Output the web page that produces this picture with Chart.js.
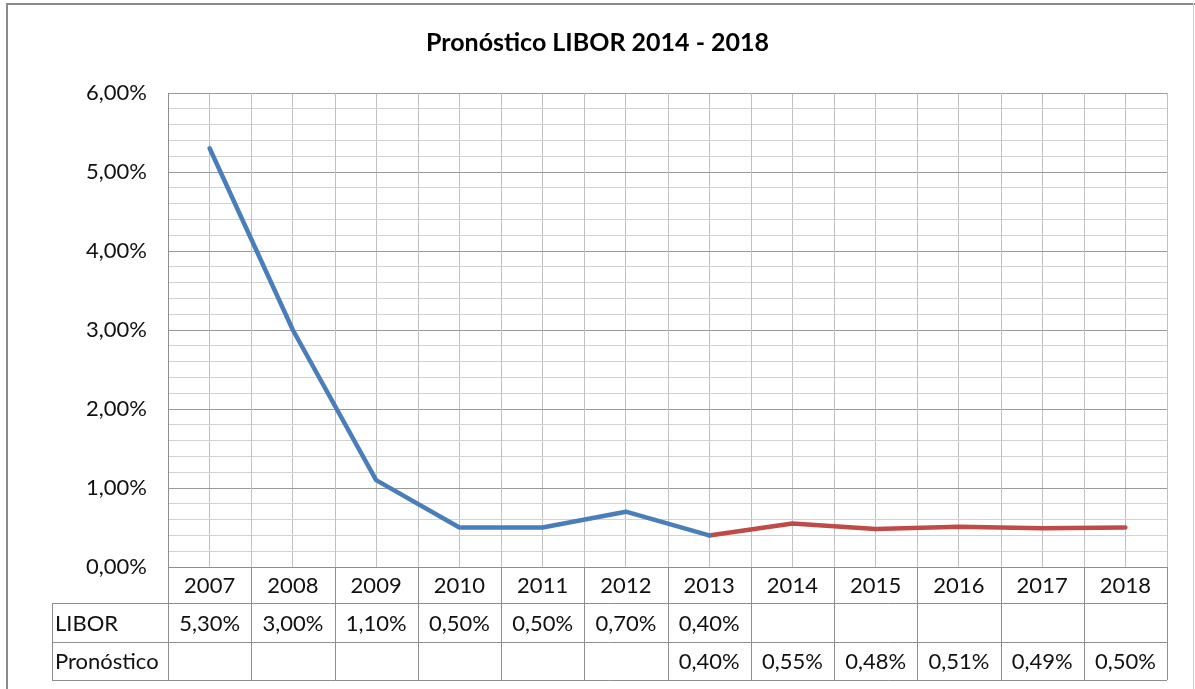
<!DOCTYPE html>
<html lang="es">
<head>
<meta charset="utf-8">
<title>Pronóstico LIBOR 2014 - 2018</title>
<script src="https://cdn.jsdelivr.net/npm/chart.js@4.4.1/dist/chart.umd.min.js"></script>
<style>
  html, body { margin: 0; padding: 0; background: #fff; }
  canvas { display: block; }
</style>
</head>
<body>
<canvas id="liborChart" width="1195" height="689"></canvas>
<script>
// Series
const years = ['2007', '2008', '2009', '2010', '2011', '2012', '2013', '2014', '2015', '2016', '2017', '2018'];
const libor = [5.30, 3.00, 1.10, 0.50, 0.50, 0.70, 0.40, null, null, null, null, null];
const pronostico = [null, null, null, null, null, null, 0.40, 0.55, 0.48, 0.51, 0.49, 0.50];

// Value axis (percent)
const yMin = 0;
const yMax = 6;
const yMinorStep = 0.2;

const FONT = 'Lato, "Open Sans", sans-serif';
const fmtPct = v => v.toFixed(2).replace('.', ',') + '%';

// Outer frame of the chart object
const framePlugin = {
  id: 'frame',
  beforeDraw(chart) {
    const { ctx, width, height } = chart;
    ctx.save();
    ctx.fillStyle = '#fff';
    ctx.fillRect(0, 0, width, height);
    ctx.fillStyle = '#8a8a8a';
    ctx.fillRect(6, 3, width - 6, 2);
    ctx.fillRect(6, 3, 2, height - 3);
    ctx.fillStyle = '#cfcfcf';
    ctx.fillRect(width - 2, 3, 1, height - 3);
    ctx.restore();
  }
};

// Category separators + data table under the plot
const dataTablePlugin = {
  id: 'dataTable',
  beforeDatasetsDraw(chart) {
    const { ctx, chartArea: area, scales: { x } } = chart;
    const half = (x.getPixelForValue(1) - x.getPixelForValue(0)) / 2;
    ctx.save();
    ctx.strokeStyle = '#c0c0c0';
    ctx.lineWidth = 1;
    for (let i = 1; i <= years.length; i++) {
      const px = Math.round(x.getPixelForValue(i - 1) + half) + 0.5;
      ctx.beginPath();
      ctx.moveTo(px, area.top);
      ctx.lineTo(px, area.bottom);
      ctx.stroke();
    }
    ctx.restore();
  },
  afterDraw(chart) {
    const { ctx, chartArea: area, scales: { x } } = chart;
    const half = (x.getPixelForValue(1) - x.getPixelForValue(0)) / 2;
    const labelLeft = 52;
    const rowH = [36, 39, 38];
    const rowTop = [area.bottom, area.bottom + rowH[0], area.bottom + rowH[0] + rowH[1]];
    const tableBottom = rowTop[2] + rowH[2];
    const rows = [
      { label: 'LIBOR', values: libor },
      { label: 'Pronóstico', values: pronostico }
    ];

    ctx.save();
    ctx.strokeStyle = '#8e8e8e';
    ctx.lineWidth = 1;
    const hline = (y, x0, x1) => {
      const py = Math.round(y) + 0.5;
      ctx.beginPath(); ctx.moveTo(x0, py); ctx.lineTo(x1, py); ctx.stroke();
    };
    const vline = (xp, y0, y1) => {
      const px = Math.round(xp) + 0.5;
      ctx.beginPath(); ctx.moveTo(px, y0); ctx.lineTo(px, y1); ctx.stroke();
    };

    hline(rowTop[1], labelLeft, area.right);
    hline(rowTop[2], labelLeft, area.right);
    hline(tableBottom, labelLeft, area.right);
    vline(labelLeft, rowTop[1], tableBottom);
    vline(area.left, area.bottom, tableBottom);
    for (let i = 1; i <= years.length; i++) {
      vline(x.getPixelForValue(i - 1) + half, area.bottom, tableBottom);
    }

    ctx.fillStyle = '#111';
    ctx.font = '22px ' + FONT;
    ctx.textBaseline = 'middle';
    ctx.textAlign = 'center';
    years.forEach((yr, i) => {
      ctx.fillText(yr, x.getPixelForValue(i), rowTop[0] + rowH[0] / 2 + 1);
    });
    rows.forEach((row, r) => {
      const cy = rowTop[r + 1] + rowH[r + 1] / 2 + 1;
      ctx.textAlign = 'left';
      ctx.fillText(row.label, labelLeft + 3, cy);
      ctx.textAlign = 'center';
      row.values.forEach((v, i) => {
        if (v !== null) ctx.fillText(fmtPct(v), x.getPixelForValue(i), cy);
      });
    });
    ctx.restore();
  }
};

function isMajor(v) {
  return Math.abs(v - Math.round(v)) < 1e-6;
}

function buildChart() {
  const ctx = document.getElementById('liborChart').getContext('2d');
  new Chart(ctx, {
    type: 'line',
    data: {
      labels: years,
      datasets: [
        {
          label: 'LIBOR',
          data: libor,
          borderColor: '#4a7ebb',
          borderWidth: 4.5,
          borderJoinStyle: 'round',
          borderCapStyle: 'round',
          pointRadius: 0,
          tension: 0,
          spanGaps: false
        },
        {
          label: 'Pronóstico',
          data: pronostico,
          borderColor: '#be4b48',
          borderWidth: 4.5,
          borderJoinStyle: 'round',
          borderCapStyle: 'round',
          pointRadius: 0,
          tension: 0,
          spanGaps: false
        }
      ]
    },
    options: {
      responsive: false,
      animation: false,
      layout: { padding: 0 },
      plugins: {
        legend: { display: false },
        tooltip: { enabled: false },
        title: {
          display: true,
          text: 'Pronóstico LIBOR 2014 - 2018',
          color: '#000',
          font: { family: FONT, size: 25, weight: 'bold' },
          padding: { top: 28, bottom: 35 }
        }
      },
      scales: {
        x: {
          offset: true,
          ticks: { display: false },
          grid: { color: '#c0c0c0', lineWidth: 1, drawTicks: false, offset: false },
          border: { color: '#8e8e8e', width: 1 },
          afterFit(scale) { scale.height = 122; }
        },
        y: {
          min: yMin,
          max: yMax,
          ticks: {
            stepSize: yMinorStep,
            autoSkip: false,
            padding: 21,
            color: '#111',
            font: { family: FONT, size: 22 },
            callback: v => isMajor(v) ? fmtPct(v) : ''
          },
          grid: {
            drawTicks: false,
            lineWidth: 1,
            color: c => isMajor(c.tick.value) ? '#9a9a9a' : '#d2d2d2'
          },
          border: { color: '#8e8e8e', width: 1 },
          afterFit(scale) { scale.width = 168; }
        },
        // empty right margin so the title centres on the whole chart
        yRight: {
          position: 'right',
          ticks: { display: false },
          grid: { display: false, drawTicks: false },
          border: { display: false },
          afterFit(scale) { scale.width = 28; }
        }
      }
    },
    plugins: [framePlugin, dataTablePlugin]
  });
}

Promise.all([
  document.fonts.load('22px Lato'),
  document.fonts.load('bold 25px Lato')
]).then(buildChart, buildChart);
</script>
</body>
</html>
